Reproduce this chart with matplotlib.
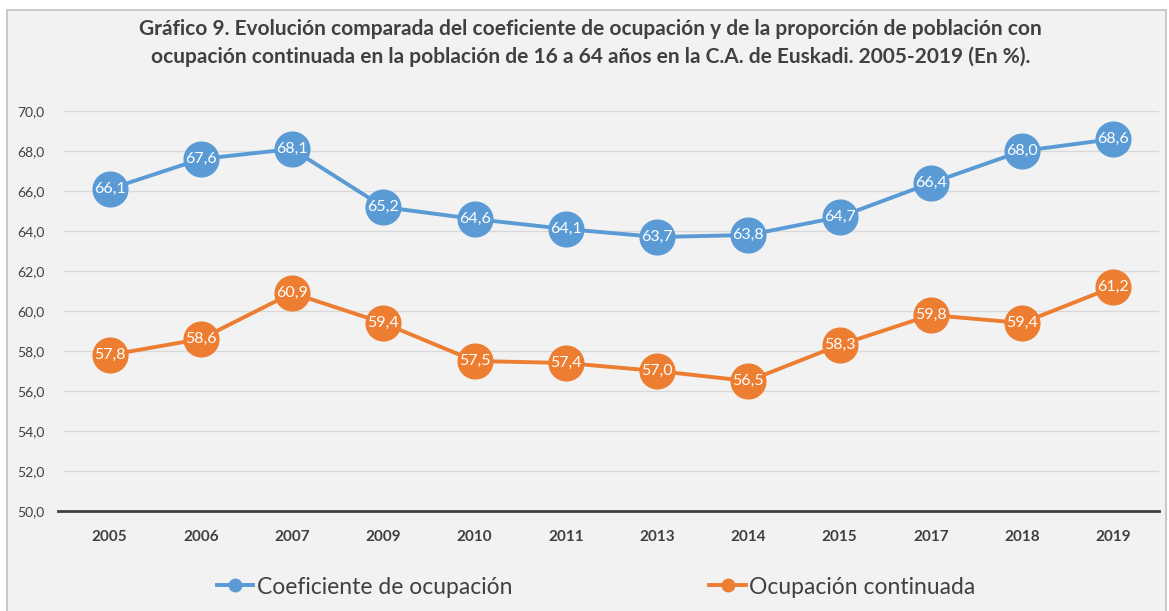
import numpy as np
import matplotlib.pyplot as plt
from matplotlib.patches import Rectangle
from matplotlib.lines import Line2D

# data
years = ['2005', '2006', '2007', '2009', '2010', '2011', '2013', '2014', '2015', '2017', '2018', '2019']
coef_ocupacion = [66.1, 67.6, 68.1, 65.2, 64.6, 64.1, 63.7, 63.8, 64.7, 66.4, 68.0, 68.6]
ocup_continuada = [57.8, 58.6, 60.9, 59.4, 57.5, 57.4, 57.0, 56.5, 58.3, 59.8, 59.4, 61.2]
labels = ['Coeficiente de ocupación', 'Ocupación continuada']
yticks = np.arange(50, 71, 2)

blue = '#5B9BD5'
orange = '#ED7D31'
txt = '#404040'
plt.rcParams['font.family'] = ['Lato', 'DejaVu Sans']

W, H = 1169, 611
fig = plt.figure(figsize=(W / 100, H / 100), dpi=100)
fig.patch.set_facecolor('white')
# chart area frame
fig.patches.append(Rectangle((7 / W, -0.05), (1166 - 7) / W, (H - 10) / H + 0.05,
                             transform=fig.transFigure, facecolor='#f2f2f2',
                             edgecolor='#bfbfbf', lw=1.2, zorder=-10))

ax = fig.add_axes([64 / W, 100 / H, (1159 - 64) / W, 400 / H])
ax.set_facecolor('none')
x = np.arange(len(years))

for vals, col, lab in [(coef_ocupacion, blue, labels[0]),
                       (ocup_continuada, orange, labels[1])]:
    ax.plot(x, vals, color=col, lw=2.8, marker='o', ms=25, mec=col, label=lab, zorder=3)
    for xi, v in zip(x, vals):
        ax.text(xi, v, f'{v:.1f}'.replace('.', ','), ha='center', va='center',
                color='white', fontsize=11.5, zorder=4)

ax.set_xlim(-0.5, len(years) - 0.5)
ax.set_ylim(50, 70)
ax.set_yticks(yticks)
ax.set_yticklabels([f'{v:.1f}'.replace('.', ',') for v in yticks], fontsize=10, color=txt)
ax.set_xticks(x)
ax.set_xticklabels(years, fontsize=11, fontweight='bold', color=txt)
ax.tick_params(length=0)
ax.tick_params(axis='x', pad=14)
ax.tick_params(axis='y', pad=14)
ax.grid(axis='y', color='#d9d9d9', lw=1)
for s in ['top', 'right', 'left']:
    ax.spines[s].set_visible(False)
ax.spines['bottom'].set_color('#404040')
ax.spines['bottom'].set_linewidth(2)
ax.spines['bottom'].set_bounds(-0.57, len(years) - 0.5)
ax.set_axisbelow(True)

fig.text(0.505, 1 - 43 / H,
         'Gráfico 9. Evolución comparada del coeficiente de ocupación y de la proporción de población con\n'
         'ocupación continuada en la población de 16 a 64 años en la C.A. de Euskadi. 2005-2019 (En %).',
         ha='center', va='center', fontsize=15, fontweight='bold', color=txt, linespacing=1.5)

hs = [Line2D([], [], color=c, lw=2.8, marker='o', ms=9) for c in (blue, orange)]
fig.legend(hs, labels, loc='center', bbox_to_anchor=(0.51, 1 - 587 / H), ncol=2, frameon=False,
           fontsize=16.5, labelcolor=txt, handlelength=1.6, handletextpad=0.15, columnspacing=8.6)

fig.savefig('out.png', dpi=100, facecolor=fig.get_facecolor())
